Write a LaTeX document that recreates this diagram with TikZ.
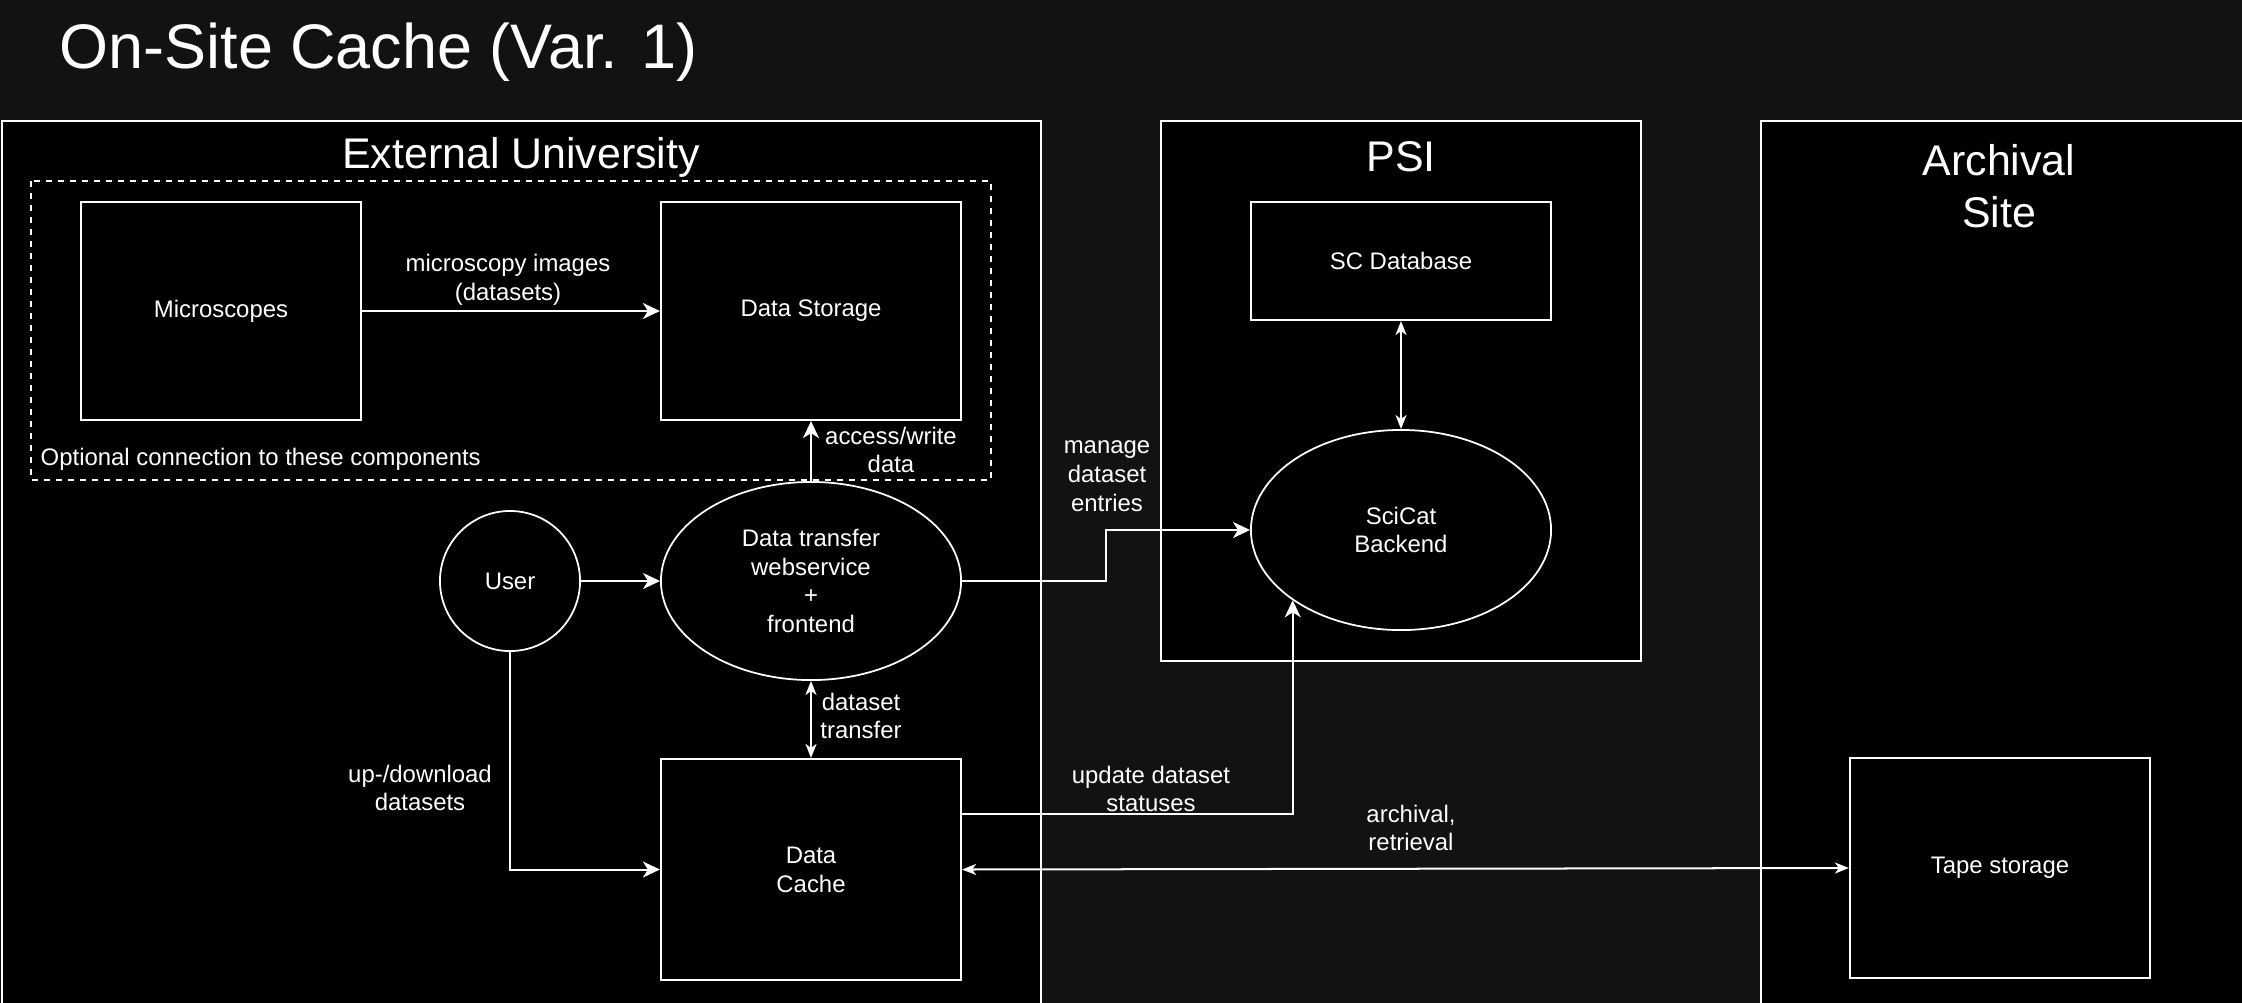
\documentclass[tikz,border=0pt]{standalone}
\usepackage{fontspec}
\setmainfont{Liberation Sans}
\usetikzlibrary{shapes.geometric}
\usetikzlibrary{arrows.meta, positioning}

\definecolor{canvas}{RGB}{18,18,18}
\newcommand{\smalltxt}{\fontsize{6.8}{8.2}\selectfont}
\newcommand{\midtxt}{\fontsize{12.2}{14.6}\selectfont}

\tikzset{
  zone/.style={draw=white,fill=black,line width=0.57pt},
  box/.style={rectangle,draw=white,fill=black,line width=0.57pt,minimum width=3cm,text=white,font=\smalltxt,align=center},
  blob/.style={ellipse,draw=white,fill=black,line width=0.5pt,minimum width=3cm,minimum height=2cm,inner sep=0pt,text=white,font=\smalltxt,align=center},
  lbl/.style={text=white,font=\smalltxt,align=center,inner sep=0pt},
  link/.style={draw=white,line width=0.57pt,-{Stealth[length=0.17cm,width=0.16cm,inset=0.05cm]}},
  both/.style={draw=white,line width=0.57pt,{Stealth[length=0.14cm,width=0.11cm,inset=0.04cm]}-{Stealth[length=0.14cm,width=0.11cm,inset=0.04cm]}},
}

\begin{document}
\begin{tikzpicture}[x=0.01cm,y=-0.01cm]
\useasboundingbox (0,0) rectangle (2242,1002);
\fill[canvas] (-10,-10) rectangle (2252,1012);

% title
\node[text=white,font=\fontsize{17.9}{21}\selectfont,anchor=base west,inner sep=0pt] (title) at (59,68) {On-Site Cache (Var. 1)};

% sites
\draw[zone] (2,121) rectangle (1041,1012);
\draw[zone] (1161,121) rectangle (1641,661);
\draw[zone] (1761,121) rectangle (2252,1012);
\node[lbl,font=\midtxt] (uni) at (521,157) {External University};
\node[lbl,font=\midtxt] (psi) at (1401,157) {PSI};
\node[lbl,font=\midtxt] (arch) at (1999,186) {Archival\\Site};

% optional part
\draw[white,line width=0.57pt,dash pattern=on 0.06cm off 0.06cm] (31,181) rectangle (991,480);
\node[lbl,anchor=west] (opt) at (40,459) {Optional connection to these components};

\node[box,minimum width=2.79cm,minimum height=2.18cm] (micro) at (221,311) {Microscopes};
\node[box,minimum height=2.18cm] (store) at (811,311) {Data Storage};
\node[ellipse,draw=white,fill=black,line width=0.5pt,minimum size=1.4cm,text=white,font=\smalltxt] (user) at (510,581) {User};
\node[blob,minimum height=1.98cm] (web) at (811,581) {Data transfer\\webservice\\+\\frontend};
\node[box,minimum height=2.21cm] (cache) at (811,869.5) {Data\\Cache};
\node[box,minimum height=1.18cm] (scdb) at (1401,261) {SC Database};
\node[blob] (scicat) at (1401,530) {SciCat\\Backend};
\node[box,minimum height=2.2cm] (tape) at (2000,868) {Tape storage};

% connectors
\draw[link] (micro.east) -- (store.west);
\draw[link] (web.north) -- (store.south);
\draw[link] (user.east) -- (web.west);
\draw[both] (web.south) -- (cache.north);
\draw[link] (user.south) |- (cache.west);
\draw[link] (web.east) -- ++(144,0) |- (scicat.west);
\draw[both] (scdb.south) -- (scicat.north);
\draw[link] ([yshift=0.555cm]cache.east) -| (scicat.213);
\draw[both] (cache.east) -- (tape.west);

% labels
\node[lbl] (l1) at (508,280) {microscopy images\\(datasets)};
\node[lbl] (l2) at (891,450) {access/write\\data};
\node[lbl] (l3) at (861,716) {dataset\\transfer};
\node[lbl] (l4) at (420,788) {up-/download\\datasets};
\node[lbl] (l5) at (1107,476) {manage\\dataset\\entries};
\node[lbl] (l6) at (1151,789) {update dataset\\statuses};
\node[lbl] (l7) at (1411,828) {archival,\\retrieval};

\end{tikzpicture}
\end{document}
